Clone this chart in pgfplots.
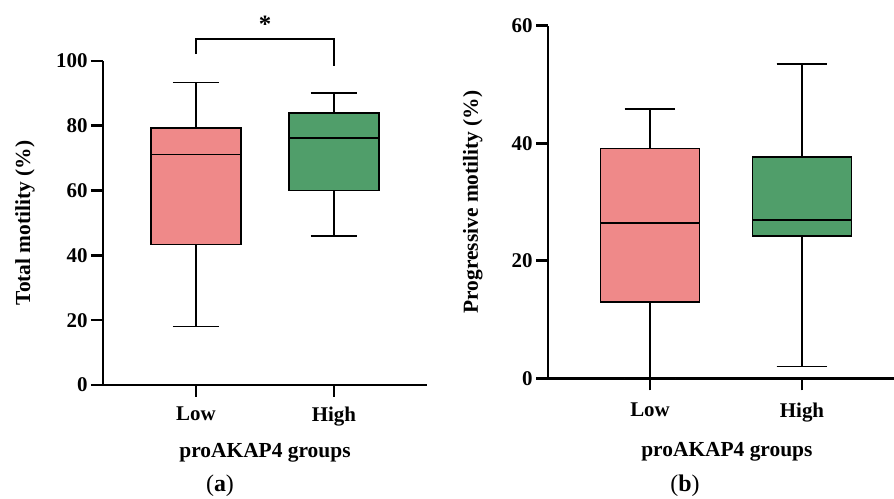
\documentclass[border=0pt]{standalone}
\usepackage{fontspec}
\setmainfont{Liberation Serif}
\usepackage{pgfplots}
\pgfplotsset{compat=1.18}
\usepgfplotslibrary{statistics}
\definecolor{pinkc}{RGB}{239,137,137}
\definecolor{greenc}{RGB}{80,158,106}
\pgfplotsset{
  mystyle/.style={
    scale only axis,
    axis x line=bottom, axis y line=left,
    axis line style={-, line width=2.6bp},
    tick align=outside,
    major tick length=12bp,
    tick style={line width=2.6bp, black},
    ymin=0,
    xtick={1,2}, xticklabels={Low,High},
    /pgf/number format/assume math mode=true,
    tick label style={font=\bfseries\fontsize{21}{25}\selectfont},
    label style={font=\bfseries\fontsize{21.5}{26}\selectfont},
    clip=false,
    xlabel={proAKAP4 groups},
  },
  boxs/.style={draw=black, line width=1.6bp, solid,
    boxplot/draw direction=y, boxplot/box extend=0.65, boxplot/whisker extend=0.335,
    boxplot/every median/.style={line width=1.6bp}},
}
\begin{document}
\begin{tikzpicture}
\useasboundingbox (0,0) rectangle (894bp,499bp);
\begin{axis}[mystyle,
  at={(103bp,114bp)}, anchor=south west,
  width=324bp, height=324bp,
  ymax=100, ytick={0,20,40,60,80,100},
  xmin=0.326, xmax=2.674,
  xticklabel style={yshift=-6bp},
  ylabel={Total motility (\%)},
  ylabel style={at={(axis description cs:-0.241,0.5)}, anchor=center},
  xlabel style={at={(axis description cs:0.5,-0.21)}, anchor=center},
]
\addplot[boxs, fill=pinkc, boxplot prepared={median=71.2, upper quartile=79.3, lower quartile=43.4, upper whisker=93.4, lower whisker=18.1, draw position=1}] coordinates {};
\addplot[boxs, fill=greenc, boxplot prepared={median=76.3, upper quartile=83.9, lower quartile=60.0, upper whisker=90.2, lower whisker=46.0, draw position=2}] coordinates {};
\draw[line width=1.6bp] (axis cs:1,102.1) -- (axis cs:1,106.7) -- (axis cs:2,106.7) -- (axis cs:2,98.5);
\node[font=\bfseries\fontsize{25}{30}\selectfont, anchor=north, inner sep=0pt] at (axis cs:1.5,113.8) {*};
\end{axis}
\begin{axis}[mystyle,
  at={(548bp,120.7bp)}, anchor=south west,
  width=346bp, height=352.6bp,
  ymax=60, ytick={0,20,40,60},
  xmin=0.329, xmax=2.605,
  xticklabel style={yshift=-9bp},
  ylabel={Progressive motility (\%)},
  ylabel style={at={(axis description cs:-0.217,0.5)}, anchor=center},
  xlabel style={at={(axis description cs:0.517,-0.209)}, anchor=center},
]
\addplot[boxs, fill=pinkc, boxplot prepared={median=26.4, upper quartile=39.1, lower quartile=13.0, upper whisker=45.8, lower whisker=0, draw position=1}] coordinates {};
\addplot[boxs, fill=greenc, boxplot prepared={median=26.9, upper quartile=37.7, lower quartile=24.2, upper whisker=53.5, lower whisker=2.0, draw position=2}] coordinates {};
\end{axis}
\node[font=\fontsize{24}{28}\selectfont] at (220bp,13bp) {(\textbf{a})};
\node[font=\fontsize{24}{28}\selectfont] at (685bp,13bp) {(\textbf{b})};
\end{tikzpicture}
\end{document}
